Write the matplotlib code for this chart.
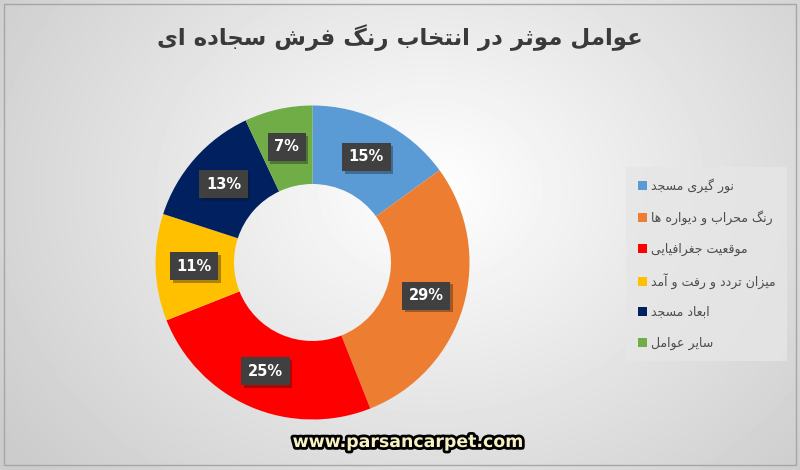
import numpy as np
import matplotlib
matplotlib.use('Agg')
import matplotlib.pyplot as plt
import matplotlib.patheffects as pe
from matplotlib.patches import Rectangle

# data
labels = ['نور گیری مسجد', 'رنگ محراب و دیواره ها', 'موقعیت جغرافیایی',
          'میزان تردد و رفت و آمد', 'ابعاد مسجد', 'سایر عوامل']
values = [15, 29, 25, 11, 13, 7]
colors = ['#5B9BD5', '#ED7D31', '#FF0000', '#FFC000', '#002060', '#70AD47']
title = 'عوامل موثر در انتخاب رنگ فرش سجاده ای'
site = 'www.parsancarpet.com'

# simple arabic/persian shaping, matplotlib has no bidi
FORMS = {
    'ا': ('\uFE8D', '\uFE8E', None, None),
    'آ': ('\uFE81', '\uFE82', None, None),
    'ب': ('\uFE8F', '\uFE90', '\uFE91', '\uFE92'),
    'ت': ('\uFE95', '\uFE96', '\uFE97', '\uFE98'),
    'ث': ('\uFE99', '\uFE9A', '\uFE9B', '\uFE9C'),
    'ج': ('\uFE9D', '\uFE9E', '\uFE9F', '\uFEA0'),
    'ح': ('\uFEA1', '\uFEA2', '\uFEA3', '\uFEA4'),
    'خ': ('\uFEA5', '\uFEA6', '\uFEA7', '\uFEA8'),
    'د': ('\uFEA9', '\uFEAA', None, None),
    'ر': ('\uFEAD', '\uFEAE', None, None),
    'ز': ('\uFEAF', '\uFEB0', None, None),
    'س': ('\uFEB1', '\uFEB2', '\uFEB3', '\uFEB4'),
    'ش': ('\uFEB5', '\uFEB6', '\uFEB7', '\uFEB8'),
    'ع': ('\uFEC9', '\uFECA', '\uFECB', '\uFECC'),
    'غ': ('\uFECD', '\uFECE', '\uFECF', '\uFED0'),
    'ف': ('\uFED1', '\uFED2', '\uFED3', '\uFED4'),
    'ق': ('\uFED5', '\uFED6', '\uFED7', '\uFED8'),
    'ل': ('\uFEDD', '\uFEDE', '\uFEDF', '\uFEE0'),
    'م': ('\uFEE1', '\uFEE2', '\uFEE3', '\uFEE4'),
    'ن': ('\uFEE5', '\uFEE6', '\uFEE7', '\uFEE8'),
    'ه': ('\uFEE9', '\uFEEA', '\uFEEB', '\uFEEC'),
    'و': ('\uFEED', '\uFEEE', None, None),
    'ی': ('\uFBFC', '\uFBFD', '\uFBFE', '\uFBFF'),
    'گ': ('\uFB92', '\uFB93', '\uFB94', '\uFB95'),
}


def shape(s):
    out = []
    for i, c in enumerate(s):
        if c not in FORMS:
            out.append(c)
            continue
        iso, fin, ini, med = FORMS[c]
        prev = s[i - 1] if i > 0 else ''
        nxt = s[i + 1] if i + 1 < len(s) else ''
        jp = prev in FORMS and FORMS[prev][2] is not None
        jn = nxt in FORMS and ini is not None
        if jp and jn:
            out.append(med)
        elif jp:
            out.append(fin)
        elif jn:
            out.append(ini)
        else:
            out.append(iso)
    return ''.join(reversed(out))


plt.rcParams['font.family'] = ['DejaVu Sans']

W, H = 800, 470
fig = plt.figure(figsize=(W / 100, H / 100), dpi=100)

# background radial gradient
bg = fig.add_axes([0, 0, 1, 1])
yy, xx = np.mgrid[0:H, 0:W]
d = np.sqrt(((xx - 430) / 520.0) ** 2 + ((yy - 190) / 420.0) ** 2)
shade = 1.0 - 0.2 * np.clip(d, 0, 1)
bg.imshow(shade, cmap='gray', vmin=0, vmax=1, extent=[0, W, H, 0], aspect='auto')
bg.set_xlim(0, W)
bg.set_ylim(H, 0)
bg.axis('off')
bg.add_patch(Rectangle((4, 4), W - 8, H - 9, fill=False, ec='#a6a6a6', lw=1))

# donut
cx, cy, R = 312.5, 262.5, 157.0
half = 175.0
ax = fig.add_axes([(cx - half) / W, (H - cy - half) / H, 2 * half / W, 2 * half / H])
lim = half / R
wedges, _ = ax.pie(values, colors=colors, startangle=90, counterclock=False,
                   radius=1.0, wedgeprops=dict(width=0.5, linewidth=0))
ax.set_xlim(-lim, lim)
ax.set_ylim(-lim, lim)
ax.set_aspect('equal')
ax.axis('off')

total = float(sum(values))
start = 90.0
for v in values:
    mid = np.deg2rad(start - 360.0 * v / total / 2)
    start -= 360.0 * v / total
    x, y = 0.755 * np.cos(mid), 0.755 * np.sin(mid)
    t = ax.text(x, y, '%d%%' % v, ha='center', va='center', fontsize=10.5,
                fontweight='bold', color='white',
                bbox=dict(boxstyle='square,pad=0.45', fc='#404040', ec='none'))
    t.get_bbox_patch().set_path_effects(
        [pe.SimplePatchShadow(offset=(2, -2), alpha=0.35), pe.Normal()])

# title
fig.text(400 / W, 1 - 38 / H, shape(title), ha='center', va='center',
         fontsize=16.5, fontweight='bold', color='#3a3a3a')

# legend
leg = fig.legend(wedges, [shape(l) for l in labels], loc='upper left',
                 bbox_to_anchor=(620 / W, 1 - 161 / H), frameon=True,
                 fontsize=9, labelspacing=1.38, handlelength=0.75,
                 handleheight=0.75, handletextpad=0.3, borderpad=0.9,
                 fancybox=False, labelcolor='#4d4d4d')
leg.get_frame().set_facecolor('#e6e6e6')
leg.get_frame().set_edgecolor('none')
leg.get_frame().set_alpha(0.8)

# site watermark
fig.text(408 / W, 1 - 442 / H, site, ha='center', va='center', fontsize=12.5,
         fontweight='bold', color='#f5f1c2',
         path_effects=[pe.withStroke(linewidth=4, foreground='black')])

fig.savefig('out.png', dpi=100)
